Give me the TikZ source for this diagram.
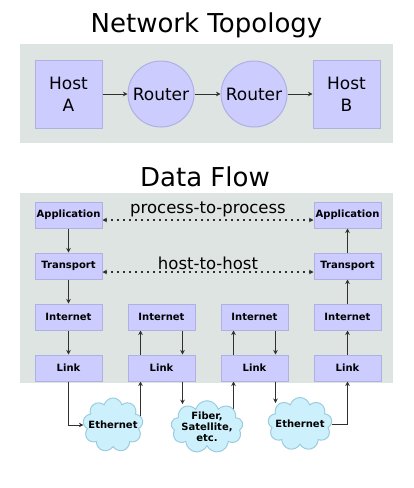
\documentclass[tikz,border=0pt]{standalone}
\usepackage{fontspec}
\setmainfont{DejaVu Sans}
\usepackage{xcolor}
\usetikzlibrary{shapes,arrows.meta,positioning,calc,backgrounds}

\definecolor{panelbg}{HTML}{DDE4E2}
\definecolor{boxfill}{HTML}{CCCCFF}
\definecolor{boxline}{HTML}{B0B0E2}
\definecolor{cloudfill}{HTML}{CCF0FC}
\definecolor{cloudline}{HTML}{9CCCE0}
\definecolor{wiregray}{HTML}{303030}

\begin{document}
\begin{tikzpicture}[x=1pt, y=-1pt, >={Stealth[length=4.5pt,width=4.5pt]},
    title/.style={font=\fontsize{26}{30}\selectfont},
    host/.style={rectangle, draw=boxline, fill=boxfill, line width=1pt, minimum width=67pt, minimum height=68pt, inner sep=0pt, align=center, font=\fontsize{17}{22}\selectfont},
    router/.style={circle, draw=boxline, fill=boxfill, line width=1pt, minimum size=66pt, inner sep=0pt, font=\fontsize{17}{22}\selectfont},
    layer/.style={rectangle, draw=boxline, fill=boxfill, line width=1pt, minimum width=67pt, minimum height=26pt, inner sep=0pt, font=\fontsize{10}{11}\selectfont\bfseries},
    medium/.style={cloud, cloud puffs=9, cloud ignores aspect, draw=cloudline, fill=cloudfill, line width=1pt, inner xsep=-8pt, inner ysep=0pt, align=center, font=\fontsize{10}{11}\selectfont\bfseries},
    wire/.style={draw=wiregray, line width=1pt},
    peer/.style={draw=wiregray, line width=1.3pt, dash pattern=on 1.5pt off 4.5pt, <->},
    peerlabel/.style={midway, above, inner sep=2pt, font=\fontsize{16.5}{20}\selectfont}]

    \useasboundingbox (0,0) rectangle (413,488);

    % Panels
    \begin{scope}[on background layer]
        \fill[panelbg] (20,44) rectangle (393,143);
        \fill[panelbg] (20,193) rectangle (393,383);
    \end{scope}

    % Network topology
    \node[title] (toptitle) at (206.5,25) {Network Topology};
    \node[host] (hostA) at (68.5,94) {Host\\A};
    \node[router, right=25pt of hostA] (r1) {Router};
    \node[router, right=26pt of r1] (r2) {Router};
    \node[host, right=25pt of r2] (hostB) {Host\\B};

    \draw[wire, ->] (hostA) -- (r1);
    \draw[wire, ->] (r1) -- (r2);
    \draw[wire, ->] (r2) -- (hostB);

    % Data flow
    \node[title] (flowtitle) at (205,177) {Data Flow};

    % Sending host
    \node[layer] (app1) at (68.5,215) {Application};
    \node[layer, below=24pt of app1] (tr1) {Transport};
    \node[layer, below=24pt of tr1] (in1) {Internet};
    \node[layer, below=24pt of in1] (ln1) {Link};

    % Routers
    \node[layer, right=25pt of in1] (in2) {Internet};
    \node[layer, below=24pt of in2] (ln2) {Link};
    \node[layer, right=25pt of in2] (in3) {Internet};
    \node[layer, below=24pt of in3] (ln3) {Link};

    % Receiving host
    \node[layer, right=25pt of in3] (in4) {Internet};
    \node[layer, below=24pt of in4] (ln4) {Link};
    \node[layer, above=24pt of in4] (tr4) {Transport};
    \node[layer, above=24pt of tr4] (app4) {Application};

    % Media
    \node[medium, minimum width=60pt, minimum height=54pt] (eth1) at (113,425) {Ethernet};
    \node[medium, minimum width=72pt, minimum height=52pt] (fiber) at (207,427) {Fiber,\\Satellite,\\etc.};
    \node[medium, minimum width=64pt, minimum height=53pt] (eth2) at (300,424) {Ethernet};

    % Peer-to-peer
    \draw[peer] ([yshift=-5pt]app1.east) -- ([yshift=-5pt]app4.west) node[peerlabel] {process-to-process};
    \draw[peer] ([yshift=-6pt]tr1.east) -- ([yshift=-6pt]tr4.west) node[peerlabel] {host-to-host};

    % Down the sending stack
    \draw[wire, ->] (app1) -- (tr1);
    \draw[wire, ->] (tr1) -- (in1);
    \draw[wire, ->] (in1) -- (ln1);
    \draw[wire, ->] (ln1.south) |- (eth1.west);

    % Through the routers
    \begin{scope}[on background layer]
        \draw[wire, ->] ($(eth1.center -| ln2.south)+(-21,0)$) -- ($(ln2.south)+(-21,0)$);
        \draw[wire, ->] ($(fiber.center -| ln3.south)+(-21,0)$) -- ($(ln3.south)+(-21,0)$);
    \end{scope}
    \draw[wire, ->] ($(ln2.north)+(-21,0)$) -- ($(in2.south)+(-21,0)$);
    \draw[wire, ->] ($(in2.south)+(21,0)$) -- ($(ln2.north)+(21,0)$);
    \draw[wire, ->] ($(ln2.south)+(21,0)$) -- ($(fiber.north -| ln2.south)+(21,4)$);
    \draw[wire, ->] ($(ln3.north)+(-21,0)$) -- ($(in3.south)+(-21,0)$);
    \draw[wire, ->] ($(in3.south)+(21,0)$) -- ($(ln3.north)+(21,0)$);
    \draw[wire, ->] ($(ln3.south)+(21,0)$) -- ($(eth2.north -| ln3.south)+(21,6)$);

    % Up the receiving stack
    \draw[wire, ->] (eth2.east) -| (ln4.south);
    \draw[wire, ->] (ln4) -- (in4);
    \draw[wire, ->] (in4) -- (tr4);
    \draw[wire, ->] (tr4) -- (app4);

\end{tikzpicture}
\end{document}
